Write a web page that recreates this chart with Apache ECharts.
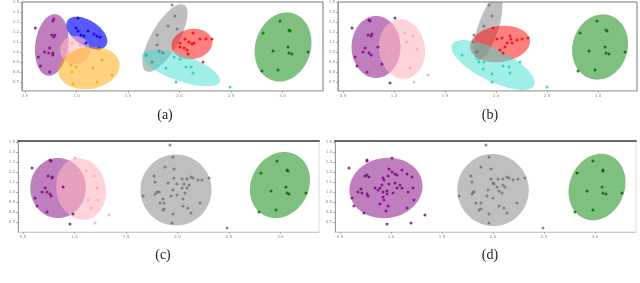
<!DOCTYPE html>
<html><head><meta charset="utf-8">
<script src="https://cdn.jsdelivr.net/npm/echarts@6/dist/echarts.min.js"></script>
<style>html,body{margin:0;padding:0;background:#fff}#c{width:640px;height:283px}</style>
</head><body><div id="c"></div>
<script>
// ---------- tick labels ----------
const xTicks = [0.5, 1.0, 1.5, 2.0, 2.5, 3.0];
const yTicks = [0.7, 0.8, 0.9, 1.0, 1.1, 1.2, 1.3, 1.4, 1.5];
const captions = ['(a)', '(b)', '(c)', '(d)'];

// ---------- panel (a) ----------
const aPurple = [[0.60,1.24],[0.78,1.33],[0.77,1.31],[0.76,1.17],[0.79,1.17],[0.78,1.15],[0.63,0.95],[0.65,0.86],[0.69,1.00],[0.73,0.99],[0.74,1.04],[0.77,0.99],[0.77,0.97],[0.74,0.80]];
const aBlue = [[1.015,1.34],[0.995,1.24],[1.015,1.21],[1.044,1.17],[1.073,1.16],[1.112,1.21],[1.170,1.18],[1.199,1.16],[1.228,1.15],[1.092,1.09],[1.218,1.04]];
const aPink = [[0.888,1.05],[0.956,1.09],[0.917,1.00],[1.034,1.07],[0.86,1.00]];
const aOrange = [[1.218,1.03],[1.248,0.92],[0.947,0.87],[0.995,0.85],[1.160,0.84],[0.956,0.80],[1.345,0.77],[1.199,0.70],[0.966,0.68]];
const aGray = [[1.927,1.47],[1.956,1.36],[1.888,1.26],[1.976,1.23],[1.782,1.17],[1.782,1.07],[1.801,1.01],[1.675,0.97],[1.840,0.99],[1.733,0.90]];
const aRed = [[2.131,1.19],[2.199,1.13],[2.257,1.13],[2.316,1.13],[2.005,1.09],[2.053,1.13],[2.092,1.10],[2.121,1.08],[2.141,1.09],[2.044,1.04],[2.073,1.02],[2.083,0.98],[2.005,1.05],[2.228,0.90]];
const aCyan = [[1.675,0.97],[1.811,1.00],[1.947,0.95],[2.005,0.93],[2.063,0.85],[2.112,0.85],[1.869,0.84],[2.131,0.79],[1.966,0.70],[2.490,0.65]];
const aGreen = [[2.811,1.19],[2.976,1.31],[3.063,1.22],[3.073,1.21],[3.053,1.05],[2.908,1.01],[3.063,0.99],[3.092,0.98],[3.248,1.00],[2.801,0.81],[2.956,0.82]];
// ellipses: [cluster, centerX, centerY, semiAxisA, semiAxisB, angleDeg]
const aEllipses = [['purple',0.76,1.07,0.31,0.16,83],['blue',1.10,1.19,0.225,0.125,-34],['pink',0.985,1.02,0.145,0.14,0],['orange',1.121,0.84,0.30,0.21,10],['gray',1.859,1.14,0.38,0.135,61],['red',2.121,1.08,0.20,0.15,10],['cyan',2.015,0.84,0.40,0.13,-20],['green',3.005,1.05,0.35,0.27,75]];

// ---------- panel (b) ----------
const bPurple = [[0.588,1.24],[0.755,1.32],[0.765,1.31],[0.745,1.17],[0.775,1.16],[0.784,1.18],[0.716,1.04],[0.696,1.00],[0.755,0.99],[0.775,0.97],[0.618,0.95],[0.637,0.86],[0.735,0.80],[0.882,0.88],[1.010,1.34],[0.961,0.69],[0.843,1.05]];
const bPink = [[1.108,1.19],[1.186,1.16],[1.127,1.10],[1.225,1.03],[1.157,0.84],[1.196,0.70],[1.333,0.77],[0.931,1.14],[0.980,1.05],[0.941,1.00]];
const bGray = [[1.931,1.47],[1.961,1.36],[1.882,1.26],[1.784,1.17],[1.814,1.00],[1.775,1.10]];
const bRed = [[1.971,1.24],[2.059,1.14],[2.137,1.16],[2.147,1.13],[2.206,1.12],[2.255,1.13],[2.314,1.14],[2.010,1.13],[2.108,1.09],[2.088,1.05],[2.157,1.09],[2.039,1.02],[2.069,0.99]];
const bCyan = [[1.667,0.97],[1.833,0.90],[1.882,0.90],[1.873,0.83],[1.961,0.78],[2.069,0.86],[2.127,0.85],[2.137,0.79],[2.235,0.90],[1.961,0.70],[2.500,0.65]];
const bGreen = [[2.824,1.19],[2.990,1.31],[3.078,1.22],[3.088,1.21],[3.069,1.05],[2.912,1.01],[3.078,0.99],[3.108,0.98],[3.265,1.00],[2.804,0.81],[2.971,0.82]];
const bEllipses = [['purple',0.824,1.05,0.31,0.24,90],['pink',1.078,1.03,0.30,0.225,98],['gray',1.922,1.24,0.34,0.10,72],['red',2.039,1.08,0.295,0.18,8],['cyan',1.971,0.87,0.45,0.16,-27],['green',3.020,1.05,0.33,0.27,75]];

// ---------- panel (c) ----------
const cPurple = [[0.587,1.24],[0.762,1.32],[0.772,1.31],[0.743,1.16],[0.782,1.15],[0.782,1.14],[0.714,1.04],[0.685,1.00],[0.733,1.00],[0.762,0.98],[0.772,0.96],[0.617,0.94],[0.636,0.86],[0.733,0.80],[0.889,1.05],[0.956,0.68],[0.985,0.78]];
const cPink = [[1.005,1.34],[1.112,1.21],[1.190,1.16],[1.044,1.19],[1.218,1.04],[1.131,0.92],[1.228,0.92],[1.160,0.84],[1.199,0.69],[1.335,0.77],[0.927,1.02],[0.859,1.04],[0.976,1.07],[1.005,1.14],[1.053,1.00]];
const cGray = [[1.927,1.47],[1.956,1.35],[1.879,1.25],[1.966,1.23],[1.772,1.16],[1.966,1.14],[2.044,1.13],[2.092,1.13],[2.131,1.15],[2.150,1.14],[2.199,1.12],[2.238,1.12],[2.306,1.14],[1.782,1.10],[1.908,1.09],[1.995,1.08],[2.063,1.08],[2.112,1.07],[2.044,1.04],[2.092,1.04],[1.956,1.02],[1.801,1.00],[1.820,1.00],[1.782,0.98],[1.665,0.96],[1.937,0.96],[1.995,0.97],[2.073,0.99],[2.053,0.93],[1.859,0.93],[1.830,0.89],[1.869,0.89],[2.218,0.89],[2.053,0.86],[2.102,0.84],[1.869,0.83],[1.859,0.82],[2.131,0.79],[1.956,0.78],[1.947,0.69],[2.481,0.64]];
const cGreen = [[2.966,1.31],[3.063,1.22],[3.073,1.21],[2.811,1.19],[3.053,1.05],[2.908,1.01],[3.063,0.99],[3.083,0.98],[3.248,0.99],[2.791,0.80],[2.956,0.82]];
const cEllipses = [['purple',0.840,1.04,0.30,0.27,90],['pink',1.063,1.03,0.31,0.24,100],['gray',1.985,1.02,0.345,0.355,0],['green',2.995,1.07,0.34,0.28,65]];

// ---------- panel (d) ----------
const dPurple = [[0.588,1.24],[0.765,1.32],[0.765,1.31],[1.010,1.34],[0.745,1.16],[0.765,1.17],[0.784,1.15],[0.922,1.14],[0.931,1.12],[0.971,1.16],[0.980,1.23],[1.010,1.20],[1.039,1.18],[1.059,1.17],[1.108,1.22],[1.157,1.18],[1.206,1.15],[0.843,1.04],[0.892,1.04],[0.912,1.07],[0.980,1.08],[1.039,1.09],[1.088,1.07],[0.706,1.03],[0.676,1.00],[0.716,0.99],[0.765,0.98],[0.775,0.96],[0.873,1.02],[0.922,1.00],[0.961,1.01],[1.020,0.99],[1.059,1.04],[1.108,1.04],[1.167,1.00],[1.216,1.04],[0.618,0.94],[0.922,0.95],[0.961,0.98],[1.225,0.92],[0.637,0.86],[0.892,0.88],[0.931,0.92],[0.971,0.86],[1.157,0.84],[0.735,0.79],[0.951,0.81],[1.333,0.77],[1.196,0.69],[0.961,0.68]];
const dGray = [[1.931,1.47],[1.961,1.35],[1.882,1.25],[1.980,1.23],[1.784,1.16],[1.980,1.13],[2.049,1.13],[2.098,1.13],[2.137,1.15],[2.157,1.14],[2.196,1.12],[2.245,1.13],[2.314,1.14],[1.794,1.10],[2.000,1.09],[2.010,1.08],[2.098,1.07],[2.118,1.05],[2.039,1.05],[1.951,1.02],[1.804,1.00],[1.814,1.00],[1.794,0.98],[1.667,0.96],[1.941,0.96],[2.000,0.94],[2.088,0.99],[2.059,1.01],[1.833,0.89],[1.882,0.89],[2.235,0.89],[2.059,0.86],[2.108,0.84],[1.882,0.83],[1.863,0.82],[2.137,0.79],[1.961,0.78],[1.961,0.69],[2.490,0.64]];
const dGreen = [[2.980,1.31],[3.078,1.22],[3.078,1.21],[2.824,1.19],[3.069,1.05],[2.922,1.01],[3.078,0.99],[3.108,0.98],[3.265,0.99],[2.804,0.80],[2.980,0.82]];
const dEllipses = [['purple',0.951,1.04,0.36,0.30,10],['gray',2.000,1.02,0.36,0.35,100],['green',3.020,1.05,0.34,0.27,70]];

// ---------- styles ----------
const fillColor = {purple:'rgba(128,0,128,0.5)', blue:'rgba(0,0,255,0.65)', pink:'rgba(255,182,193,0.6)', orange:'rgba(255,165,0,0.5)', gray:'rgba(128,128,128,0.5)', red:'rgba(255,0,0,0.5)', cyan:'rgba(64,224,208,0.5)', green:'rgba(0,128,0,0.5)'};
const pointColor = {purple:'#800080', blue:'#0000cd', pink:'#f4a6b8', orange:'#f0a020', gray:'#707070', red:'#ee0000', cyan:'#20c8c0', green:'#006400'};

const panels = [
  {grid:{left:22,top:2,width:301,height:89}, x:[0.471,3.393], y:[0.61,1.50], border:'#777', thickTop:false,
   clusters:{purple:aPurple, blue:aBlue, pink:aPink, orange:aOrange, gray:aGray, red:aRed, cyan:aCyan, green:aGreen}, ellipses:aEllipses},
  {grid:{left:338,top:2,width:299,height:89}, x:[0.451,3.382], y:[0.61,1.50], border:'#777', thickTop:false,
   clusters:{purple:bPurple, pink:bPink, gray:bGray, red:bRed, cyan:bCyan, green:bGreen}, ellipses:bEllipses},
  {grid:{left:18,top:141,width:301,height:91}, x:[0.451,3.374], y:[0.60,1.51], border:'#ddd', thickTop:true,
   clusters:{purple:cPurple, pink:cPink, gray:cGray, green:cGreen}, ellipses:cEllipses},
  {grid:{left:335,top:141,width:301,height:91}, x:[0.451,3.402], y:[0.60,1.51], border:'#ddd', thickTop:true,
   clusters:{purple:dPurple, gray:dGray, green:dGreen}, ellipses:dEllipses}
];

const grids = [], xAxes = [], yAxes = [], series = [];
const lbl = {fontSize:4, color:'#888', fontFamily:'DejaVu Sans'};
panels.forEach((p, i) => {
  grids.push(Object.assign({show:true, borderColor:p.border, borderWidth:1, backgroundColor:'#fff'}, p.grid));
  xAxes.push({type:'value', gridIndex:i, min:p.x[0], max:p.x[1], position:'bottom',
    axisLine:{show:true, lineStyle:{color:'#ccc', width:1}},
    axisTick:{show:true, length:2, lineStyle:{color:'#aaa'}, customValues:xTicks},
    axisLabel:Object.assign({margin:3, customValues:xTicks, formatter:v=>v.toFixed(1)}, lbl),
    splitLine:{show:false}});
  yAxes.push({type:'value', gridIndex:i, min:p.y[0], max:p.y[1],
    axisLine:{show:true, lineStyle:{color:'#999', width:1}},
    axisTick:{show:true, length:2, lineStyle:{color:'#aaa'}, customValues:yTicks},
    axisLabel:Object.assign({margin:3, customValues:yTicks, formatter:v=>v.toFixed(1)}, lbl),
    splitLine:{show:false}});
  const list = p.ellipses;
  series.push({type:'custom', xAxisIndex:i, yAxisIndex:i, silent:true, z:1,
    encode:{x:0, y:1},
    data: list.map(e => [e[1], e[2], e[3], e[4], e[5]]),
    renderItem: (params, api) => {
      const cx = api.value(0), cy = api.value(1), a = api.value(2), b = api.value(3), th = api.value(4) * Math.PI / 180;
      const pts = [];
      for (let k = 0; k < 90; k++) {
        const t = k / 90 * Math.PI * 2;
        const dx = a * Math.cos(t), dy = b * Math.sin(t);
        pts.push(api.coord([cx + dx * Math.cos(th) - dy * Math.sin(th), cy + dx * Math.sin(th) + dy * Math.cos(th)]));
      }
      const cs = params.coordSys;
      return {type:'polygon', shape:{points:pts}, style:{fill:fillColor[list[params.dataIndex][0]]},
        clipPath:{type:'rect', shape:{x:cs.x, y:cs.y, width:cs.width, height:cs.height}}};
    }});
  Object.keys(p.clusters).forEach(name => {
    series.push({type:'scatter', xAxisIndex:i, yAxisIndex:i, z:3, silent:true, symbolSize:3,
      data:p.clusters[name], itemStyle:{color:pointColor[name]}});
  });
});
// top thick frame lines for (c) and (d)
panels.forEach((p, i) => {
  if (p.thickTop) {
    xAxes.push({type:'value', gridIndex:i, min:p.x[0], max:p.x[1], position:'top',
      axisLine:{show:true, lineStyle:{color:'#666', width:2}}, axisTick:{show:false}, axisLabel:{show:false}, splitLine:{show:false}});
  }
});

const capPos = [[165,115],[490,115],[163,255],[490,255]];
const graphic = captions.map((c, i) => ({type:'text', x:capPos[i][0], y:capPos[i][1],
  style:{text:c, fontSize:14, fontFamily:'Liberation Serif', fill:'#222', align:'center', verticalAlign:'middle'}}));

const chart = echarts.init(document.getElementById('c'), null, {renderer:'canvas'});
chart.setOption({animation:false, grid:grids, xAxis:xAxes, yAxis:yAxes, series:series, graphic:graphic});
</script></body></html>
